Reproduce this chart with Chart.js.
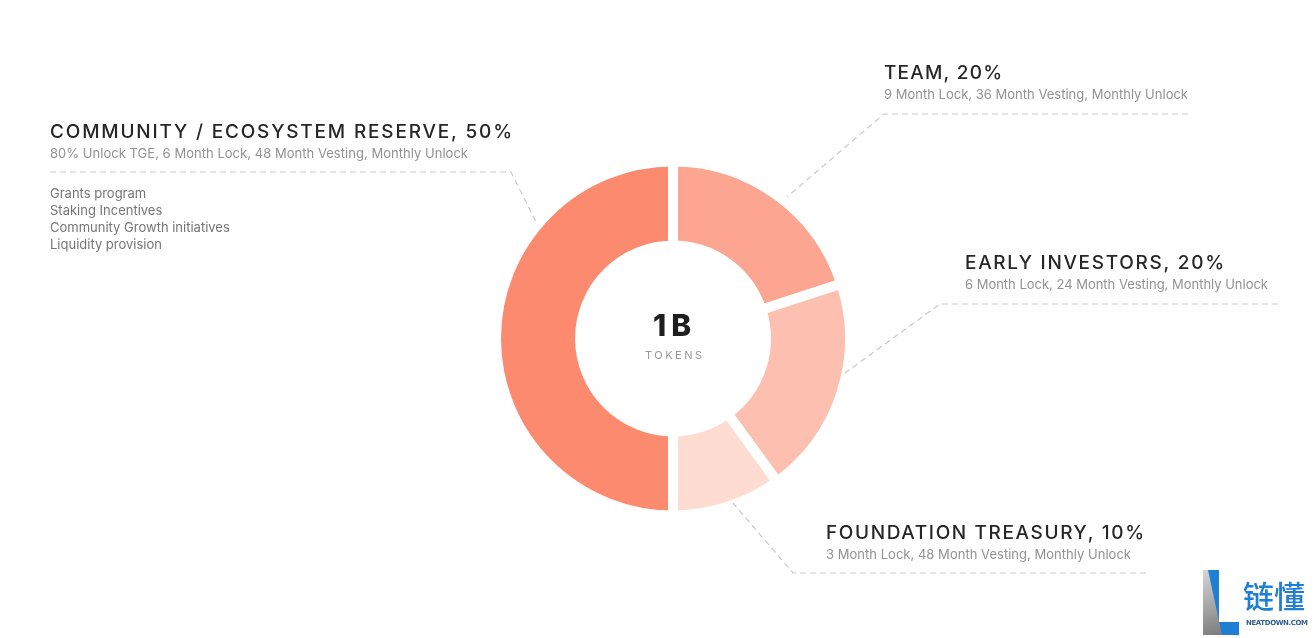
<!DOCTYPE html>
<html><head><meta charset="utf-8">
<script src="https://cdn.jsdelivr.net/npm/chart.js@4.4.1/dist/chart.umd.min.js"></script>
<style>html,body{margin:0;padding:0;background:#fff;}#wrap{position:relative;width:1316px;height:638px;}</style>
</head><body><div id="wrap"><canvas id="c" width="1316" height="638"></canvas></div>
<script>
// ---- data ----
const categories = ['TEAM', 'EARLY INVESTORS', 'FOUNDATION TREASURY', 'COMMUNITY / ECOSYSTEM RESERVE'];
const shares = [20, 20, 10, 50];
const vesting = [
  '9 Month Lock, 36 Month Vesting, Monthly Unlock',
  '6 Month Lock, 24 Month Vesting, Monthly Unlock',
  '3 Month Lock, 48 Month Vesting, Monthly Unlock',
  '80% Unlock TGE, 6 Month Lock, 48 Month Vesting, Monthly Unlock'
];
const communityUses = ['Grants program', 'Staking Incentives', 'Community Growth initiatives', 'Liquidity provision'];
const totalSupply = '1B';
const totalUnit = 'TOKENS';

// ---- styles / layout ----
const sliceColors = ['#fca590', '#fdbfb0', '#fedcd2', '#fc8a6e'];
const labelLayout = [
  {tx: 884, ty: 73, tw: 118, sy: 95, sw: 304, line: [[1188,114],[884,114],[787,197]]},
  {tx: 965, ty: 263, tw: 259, sy: 285, sw: 303, line: [[1278,304],[940,304],[845,373]]},
  {tx: 826, ty: 533, tw: 318, sy: 555, sw: 305, line: [[1146,573],[793,573],[733,503]]},
  {tx: 50, ty: 132, tw: 462, sy: 154, sw: 418, line: [[50,172],[511,172],[537,224]], by: 194, bstep: 17}
];

function drawSpaced(ctx, text, x, y, ls) {
  if ('letterSpacing' in ctx) {
    ctx.letterSpacing = ls + 'px';
    ctx.fillText(text, x, y);
    ctx.letterSpacing = '0px';
  } else {
    let cx = x;
    for (const ch of text) { ctx.fillText(ch, cx, y); cx += ctx.measureText(ch).width + ls; }
  }
}
function fitText(ctx, text, x, y, target) {
  if ('letterSpacing' in ctx) ctx.letterSpacing = '0px';
  const w0 = ctx.measureText(text).width;
  let ls = (target - w0) / Math.max(text.length - 1, 1);
  ls = Math.max(-1.5, Math.min(5, ls));
  drawSpaced(ctx, text, x, y, ls);
}

const annotations = {
  id: 'annotations',
  afterDraw(chart) {
    const ctx = chart.ctx;
    ctx.save();
    ctx.textBaseline = 'middle';
    ctx.textAlign = 'left';
    categories.forEach((cat, i) => {
      const L = labelLayout[i];
      ctx.strokeStyle = '#c9c9c9';
      ctx.lineWidth = 1.2;
      ctx.setLineDash([6, 4]);
      ctx.beginPath();
      L.line.forEach((p, k) => k ? ctx.lineTo(p[0], p[1]) : ctx.moveTo(p[0], p[1]));
      ctx.stroke();
      ctx.setLineDash([]);
      ctx.fillStyle = '#262626';
      ctx.font = '500 19px Inter, "DejaVu Sans", sans-serif';
      fitText(ctx, cat + ', ' + shares[i] + '%', L.tx, L.ty, L.tw);
      ctx.fillStyle = '#929292';
      ctx.font = '400 13px Inter, "DejaVu Sans", sans-serif';
      fitText(ctx, vesting[i], L.tx, L.sy, L.sw);
      if (L.by) {
        ctx.fillStyle = '#767676';
        ctx.font = '400 13px Inter, "DejaVu Sans", sans-serif';
        communityUses.forEach((u, k) => drawSpaced(ctx, u, L.tx, L.by + k * L.bstep, 0));
      }
    });
    // center text
    const arc = chart.getDatasetMeta(0).data[0];
    const cx = arc.x, cy = arc.y;
    ctx.fillStyle = '#1e1e1e';
    ctx.font = '800 30px Inter, "DejaVu Sans", sans-serif';
    fitText(ctx, totalSupply, cx - 20, cy - 12, 39);
    ctx.fillStyle = '#9a9a9a';
    ctx.font = '400 11px Inter, "DejaVu Sans", sans-serif';
    fitText(ctx, totalUnit, cx - 28, cy + 17, 57);
    // logo
    ctx.fillStyle = '#1f7fd4';
    ctx.beginPath();
    ctx.moveTo(1203, 570); ctx.lineTo(1219, 570); ctx.lineTo(1219, 622); ctx.lineTo(1239, 622);
    ctx.lineTo(1239, 635); ctx.lineTo(1203, 635); ctx.closePath(); ctx.fill();
    const g = ctx.createLinearGradient(1203, 570, 1222, 635);
    g.addColorStop(0, '#d6d6d6'); g.addColorStop(1, '#7c7c7c');
    ctx.fillStyle = g;
    ctx.beginPath(); ctx.moveTo(1203, 570); ctx.lineTo(1208, 570); ctx.lineTo(1222, 635); ctx.lineTo(1203, 635); ctx.closePath(); ctx.fill();
    ctx.fillStyle = '#1f7fd4';
    ctx.font = '500 31px "Noto Sans CJK SC", sans-serif';
    ctx.fillText('链懂', 1243, 596);
    ctx.fillStyle = '#35608e';
    ctx.font = '700 7px "DejaVu Sans", sans-serif';
    fitText(ctx, 'NEATDOWN.COM', 1246, 623, 62);
    ctx.restore();
  }
};

new Chart(document.getElementById('c'), {
  type: 'doughnut',
  data: {
    labels: categories,
    datasets: [{
      data: shares,
      backgroundColor: sliceColors,
      borderColor: '#ffffff',
      borderWidth: 10,
      hoverOffset: 0
    }]
  },
  options: {
    responsive: false,
    animation: false,
    radius: 177,
    cutout: '52.5%',
    rotation: 0,
    layout: {padding: {left: 30, top: 39, right: 0, bottom: 0}},
    plugins: {legend: {display: false}, tooltip: {enabled: false}},
    events: []
  },
  plugins: [annotations]
});
</script></body></html>
